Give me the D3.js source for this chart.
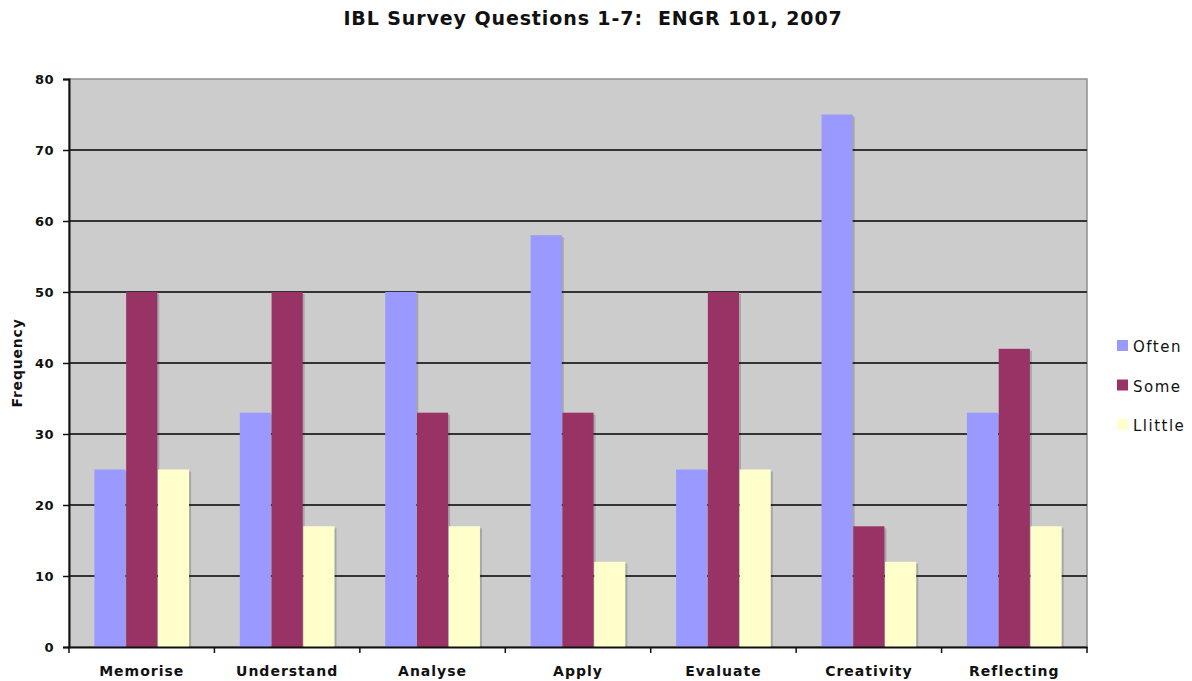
<!DOCTYPE html>
<html>
<head>
<meta charset="utf-8">
<script src="https://cdn.jsdelivr.net/npm/d3@7"></script>
<style>
  body { margin: 0; background: #fff; }
  svg text { font-family: "DejaVu Sans", Verdana, sans-serif; fill: #111; }
</style>
</head>
<body>
<svg id="chart" width="1192" height="681"></svg>
<script>
// Survey responses per learning activity
const categories = ["Memorise", "Understand", "Analyse", "Apply", "Evaluate", "Creativity", "Reflecting"];
const seriesNames = ["Often", "Some", "Llittle"];
const often   = [25, 33, 50, 58, 25, 75, 33];
const some    = [50, 50, 33, 33, 50, 17, 42];
const little  = [25, 17, 17, 12, 25, 12, 17];
const yTicks  = [0, 10, 20, 30, 40, 50, 60, 70, 80];
const colors  = ["#9999ff", "#993366", "#ffffcc"];

const seriesValues = [often, some, little];
const rows = categories.map((c, i) => ({
  cat: c,
  vals: seriesNames.map((s, j) => ({ key: s, value: seriesValues[j][i], color: colors[j] }))
}));

const svg = d3.select("#chart");
const m = { left: 69, right: 1087, top: 79, bottom: 647 };

const x0 = d3.scaleBand().domain(categories).range([m.left, m.right]).paddingInner(0.34).paddingOuter(0.17);
const x1 = d3.scaleBand().domain(seriesNames).range([0, x0.bandwidth()]).padding(0.02);
const y = d3.scaleLinear().domain([0, 80]).range([m.bottom, m.top]);

// plot background
svg.append("rect")
  .attr("x", m.left).attr("y", m.top)
  .attr("width", m.right - m.left).attr("height", m.bottom - m.top)
  .attr("fill", "#cccccc").attr("stroke", "#8f8f8f").attr("stroke-width", 1.5);

// horizontal gridlines
svg.append("g").selectAll("line")
  .data(yTicks.filter(t => t > 0 && t < 80))
  .join("line")
  .attr("x1", m.left).attr("x2", m.right)
  .attr("y1", d => y(d)).attr("y2", d => y(d))
  .attr("stroke", "#333").attr("stroke-width", 2);

// bars with a faint right-hand shadow
const groups = svg.append("g").selectAll("g")
  .data(rows).join("g")
  .attr("transform", d => `translate(${x0(d.cat)},0)`);

groups.selectAll("rect.shadow")
  .data(d => d.vals).join("rect")
  .attr("class", "shadow")
  .attr("x", d => x1(d.key) + 2)
  .attr("y", d => y(d.value) + 2)
  .attr("width", x1.bandwidth())
  .attr("height", d => y(0) - y(d.value) - 2)
  .attr("fill", "rgba(0,0,0,0.18)");

groups.selectAll("rect.bar")
  .data(d => d.vals).join("rect")
  .attr("class", "bar")
  .attr("x", d => x1(d.key))
  .attr("y", d => y(d.value))
  .attr("width", x1.bandwidth())
  .attr("height", d => y(0) - y(d.value))
  .attr("fill", d => d.color);

// y axis
const yAxis = svg.append("g")
  .attr("transform", `translate(${m.left},0)`)
  .call(d3.axisLeft(y).tickValues(yTicks).tickSize(6).tickPadding(9));
yAxis.select(".domain").attr("stroke", "#111").attr("stroke-width", 2);
yAxis.selectAll(".tick line").attr("stroke", "#111").attr("stroke-width", 1.5);
yAxis.selectAll(".tick text")
  .style("font-family", "'DejaVu Sans', Verdana, sans-serif")
  .style("font-size", "13px").style("font-weight", "bold")
  .style("letter-spacing", "0.5px").attr("fill", "#222");

// x axis with tick marks at category boundaries
const xAxis = svg.append("g")
  .attr("transform", `translate(0,${m.bottom})`)
  .call(d3.axisBottom(x0).tickSize(0).tickPadding(19));
xAxis.select(".domain").attr("stroke", "#111").attr("stroke-width", 2);
xAxis.selectAll(".tick text")
  .style("font-family", "'DejaVu Sans', Verdana, sans-serif")
  .style("font-size", "14px").style("font-weight", "600")
  .style("letter-spacing", "1px").attr("fill", "#222");

const step = (m.right - m.left) / categories.length;
svg.append("g").selectAll("line")
  .data(d3.range(categories.length + 1))
  .join("line")
  .attr("x1", i => m.left + i * step).attr("x2", i => m.left + i * step)
  .attr("y1", m.bottom).attr("y2", m.bottom + 6)
  .attr("stroke", "#111").attr("stroke-width", 1.5);

// title
svg.append("text")
  .attr("x", 593).attr("y", 25)
  .attr("text-anchor", "middle")
  .style("font-size", "19px").style("font-weight", "bold")
  .style("letter-spacing", "0.9px")
  .style("white-space", "pre")
  .text("IBL Survey Questions 1-7:  ENGR 101, 2007");

// y-axis title
svg.append("text")
  .attr("transform", "translate(22,363) rotate(-90)")
  .attr("text-anchor", "middle")
  .style("font-size", "14px").style("font-weight", "bold")
  .style("letter-spacing", "0.8px")
  .text("Frequency");

// legend
const legend = svg.append("g").selectAll("g")
  .data(seriesNames).join("g")
  .attr("transform", (d, i) => `translate(1117,${346 + i * 39.5})`);
legend.append("rect")
  .attr("x", 0).attr("y", -6).attr("width", 11).attr("height", 11)
  .attr("fill", (d, i) => colors[i]);
legend.append("text")
  .attr("x", 16).attr("y", 6)
  .style("font-size", "15px")
  .style("letter-spacing", "1.5px")
  .text(d => d);
</script>
</body>
</html>
